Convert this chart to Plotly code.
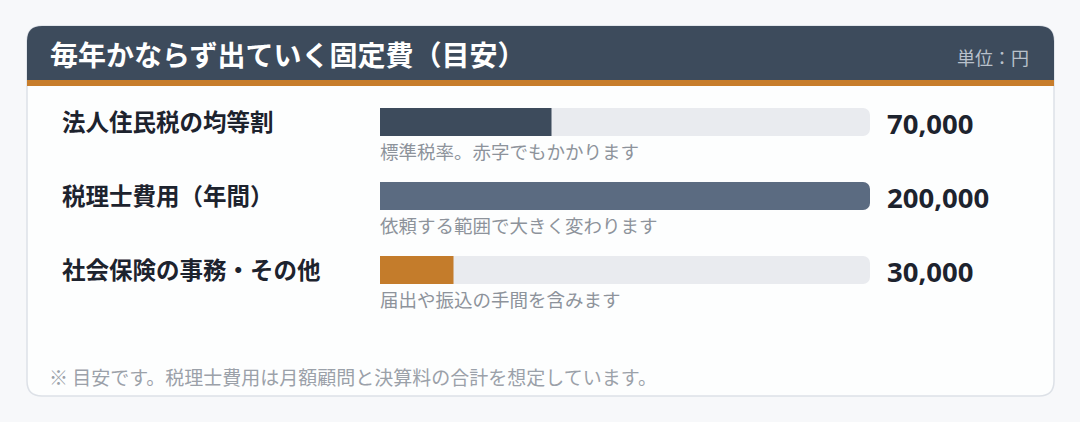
import plotly.graph_objects as go

#------------------------------------------------------------------------------
#   Data
#------------------------------------------------------------------------------
title = "毎年かならず出ていく固定費（目安）"
unit_label = "単位：円"
categories = ["法人住民税の均等割", "税理士費用（年間）", "社会保険の事務・その他"]
amounts = [70000, 200000, 30000]
notes = ["標準税率。赤字でもかかります", "依頼する範囲で大きく変わります", "届出や振込の手間を含みます"]
bar_colors = ["#3d4b5c", "#5b6b81", "#c47c2b"]
scale_max = 200000
footnote = "※ 目安です。税理士費用は月額顧問と決算料の合計を想定しています。"

#------------------------------------------------------------------------------
#   Page geometry (pixels)
#------------------------------------------------------------------------------
W, H = 1080, 422
JP = "Noto Sans CJK JP"


def px(x):
    return x / W


def py(y):
    return 1 - y / H


def rounded_path(x0, y0, x1, y1, r, top_only=False):
    rb = 0 if top_only else r
    pts = [
        f"M {px(x0 + r)},{py(y0)}",
        f"L {px(x1 - r)},{py(y0)}",
        f"Q {px(x1)},{py(y0)} {px(x1)},{py(y0 + r)}",
        f"L {px(x1)},{py(y1 - rb)}",
        f"Q {px(x1)},{py(y1)} {px(x1 - rb)},{py(y1)}",
        f"L {px(x0 + rb)},{py(y1)}",
        f"Q {px(x0)},{py(y1)} {px(x0)},{py(y1 - rb)}",
        f"L {px(x0)},{py(y0 + r)}",
        f"Q {px(x0)},{py(y0)} {px(x0 + r)},{py(y0)}",
        "Z",
    ]
    return " ".join(pts)


shapes = [
    dict(type="path", xref="paper", yref="paper", layer="below",
         path=rounded_path(27, 26, 1054, 396, 15), fillcolor="#fdfefe",
         line=dict(color="#dde1e7", width=1.5)),
    dict(type="path", xref="paper", yref="paper", layer="below",
         path=rounded_path(27, 26, 1054, 81, 15, top_only=True),
         fillcolor="#3d4b5c", line=dict(width=0)),
    dict(type="rect", xref="paper", yref="paper", layer="below",
         x0=px(27), x1=px(1054), y0=py(86), y1=py(80),
         fillcolor="#c77d2b", line=dict(width=0)),
]

#------------------------------------------------------------------------------
#   Bars
#------------------------------------------------------------------------------
fig = go.Figure()
fig.add_trace(go.Bar(y=categories, x=[scale_max] * len(categories), orientation="h",
                     marker=dict(color="#e9ebef", cornerradius=7, line=dict(width=0)),
                     width=0.38, hoverinfo="skip", showlegend=False))
fig.add_trace(go.Bar(y=categories, x=amounts, orientation="h",
                     marker=dict(color=bar_colors, cornerradius=7, line=dict(width=0)),
                     width=0.38, hoverinfo="skip", showlegend=False))

annotations = [
    dict(text=title, x=px(49), y=py(54), xref="paper", yref="paper",
         xanchor="left", yanchor="middle", showarrow=False, xshift=-1,
         font=dict(family=JP, size=28, color="#ffffff", weight=700)),
    dict(text=unit_label, x=px(1031), y=py(57), xref="paper", yref="paper",
         xanchor="right", yanchor="middle", showarrow=False,
         font=dict(family=JP, size=18, color="#b9c1cb")),
    dict(text=footnote, x=px(49), y=py(376), xref="paper", yref="paper",
         xanchor="left", yanchor="middle", showarrow=False, xshift=-2,
         font=dict(family=JP, size=19, color="#9ba1a9")),
]
for cat, amt, note in zip(categories, amounts, notes):
    annotations.append(dict(text=cat, x=px(60), y=cat, xref="paper", yref="y",
                            xanchor="left", yanchor="middle", showarrow=False, yshift=1,
                            font=dict(family=JP, size=23.5, color="#1d232e", weight=700)))
    annotations.append(dict(text=f"{amt:,}", x=px(885), y=cat, xref="paper", yref="y",
                            xanchor="left", yanchor="middle", showarrow=False, yshift=-1,
                            font=dict(family="Noto Sans", size=27.5, color="#1d232e", weight=700)))
    annotations.append(dict(text=note, x=0, y=cat, xref="x", yref="y",
                            xanchor="left", yanchor="middle", showarrow=False,
                            xshift=-2, yshift=-29,
                            font=dict(family=JP, size=18.5, color="#8d939b")))

fig.update_layout(
    width=W, height=H, margin=dict(l=0, r=0, t=0, b=0),
    paper_bgcolor="#f7f8fa", plot_bgcolor="rgba(0,0,0,0)",
    barmode="overlay", shapes=shapes, annotations=annotations,
    xaxis=dict(domain=[px(380), px(870)], range=[0, scale_max], visible=False, fixedrange=True),
    yaxis=dict(domain=[py(307), py(85)], categoryorder="array", categoryarray=categories,
               range=[2.5, -0.5], autorange=False, visible=False, fixedrange=True),
)

# page body has a default margin; drop it so the figure sits at the window corner
fig.write_html("out.html", config=dict(displayModeBar=False),
               post_script="document.body.style.margin='0';document.body.style.background='#f7f8fa';")
